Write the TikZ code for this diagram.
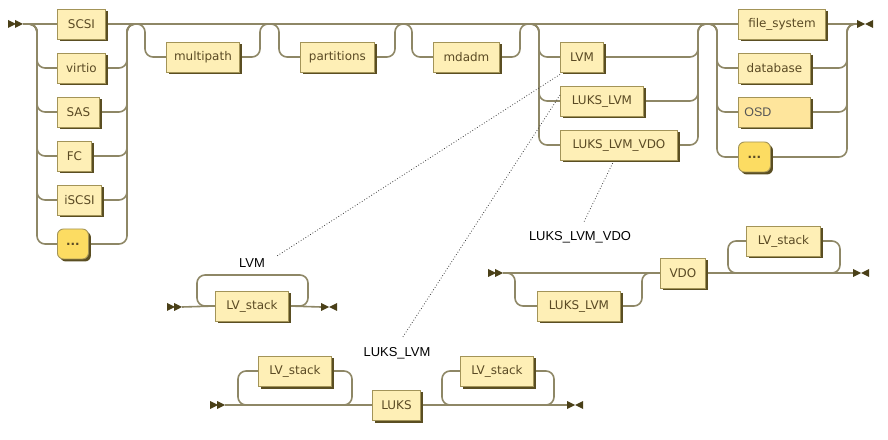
\documentclass[tikz,border=0pt]{standalone}
\usepackage{fontspec}
\setmainfont{DejaVu Sans}
\newfontfamily\labfont{Liberation Sans}
\usetikzlibrary{shadows}
\pgfdeclarelayer{bg}
\pgfsetlayers{bg,main}
\definecolor{railc}{HTML}{8E8766}
\definecolor{boxfill}{HTML}{FEEFB6}
\definecolor{boxdraw}{HTML}{A39458}
\definecolor{shadowc}{HTML}{5A4E22}
\definecolor{textc}{HTML}{5A4A24}
\definecolor{dotsfill}{HTML}{FCDC62}
\definecolor{osdfill}{HTML}{FEE59C}
\definecolor{osdtext}{HTML}{555555}
\definecolor{markc}{HTML}{4A4018}
\tikzset{
  startm/.pic={\fill[markc] (0,-4)--(8,0)--(0,4)--cycle (7,-4)--(15,0)--(7,4)--cycle;},
  endm/.pic={\fill[markc] (0,-4)--(8,0)--(0,4)--cycle (16,-4)--(8,0)--(16,4)--cycle;}
}
\begin{document}
\begin{tikzpicture}[x=1bp,y=-1bp,
  rail/.style={draw=railc,line width=1.6bp,rounded corners=8bp},
  term/.style={draw=boxdraw,fill=boxfill,line width=0.9bp,minimum height=30bp,inner sep=0pt,
    anchor=west,text=textc,font=\fontsize{12}{14}\selectfont,
    drop shadow={shadow xshift=2.5bp,shadow yshift=-2.5bp,fill=shadowc,opacity=1}},
  dotsbox/.style={term,fill=dotsfill,rounded corners=6bp},
  lab/.style={font=\labfont\fontsize{13}{15}\selectfont,text=black,inner sep=1bp},
  dotline/.style={draw=black!75,dotted,line width=0.8bp}]
\useasboundingbox (0,0) rectangle (888,440);

% ---------- main diagram ----------
\pic at (8,24) {startm};
\coordinate (st) at (23,24);
\pic at (857,24) {endm};
\coordinate (en) at (857,24);

\node[term,minimum width=48bp] (scsi) at (57,24) {SCSI};
\node[term,minimum width=48bp] (virtio) at (57,68) {virtio};
\node[term,minimum width=42bp] (sas) at (57,112) {SAS};
\node[term,minimum width=34bp] (fc) at (57,156) {FC};
\node[term,minimum width=44bp] (iscsi) at (57,200) {iSCSI};
\node[dotsbox,minimum width=31bp] (dots1) at (57,244) {\textbf{...}};

\node[term,minimum width=73bp] (mp) at (166,57) {multipath};
\node[term,minimum width=74bp] (pt) at (300,57) {partitions};
\node[term,minimum width=66bp] (md) at (433,57) {mdadm};

\node[term,minimum width=43bp] (lvm) at (560,57) {LVM};
\node[term,minimum width=83bp] (lukslvm) at (560,101) {LUKS\_LVM};
\node[term,minimum width=117bp] (lvmvdo) at (560,145) {LUKS\_LVM\_VDO};

\node[term,minimum width=87bp] (fs) at (738,24) {file\_system};
\node[term,minimum width=72bp] (db) at (738,68) {database};
\node[term,minimum width=72bp,fill=osdfill,text=osdtext,font=\labfont\fontsize{12.5}{14}\selectfont,align=left,text width=60bp] (osd) at (738,112) {OSD};
\node[dotsbox,minimum width=32bp] (dots2) at (738,157) {\textbf{...}};

\coordinate (a1) at (37,24);  \coordinate (a2) at (127,24);
\coordinate (b1) at (145,24); \coordinate (b2) at (260,24);
\coordinate (c1) at (279,24); \coordinate (c2) at (395,24);
\coordinate (d1) at (412,24); \coordinate (d2) at (520,24);
\coordinate (e1) at (539,24); \coordinate (e2) at (698,24);
\coordinate (f1) at (717,24); \coordinate (f2) at (847,24);

\begin{pgfonlayer}{bg}
% main line
\draw[rail] (st) -- (scsi.west);
\draw[rail] (scsi.east) -- (fs.west);
\draw[rail] (fs.east) -- (en);
% source choice
\foreach \n in {virtio,sas,fc,iscsi,dots1}{
  \draw[rail] (st) -- (a1) |- (\n.west);
  \draw[rail] (\n.east) -| (a2) -- ([xshift=9bp]a2);
}
% optional boxes
\draw[rail] ([xshift=-9bp]b1) -- (b1) |- (mp.west);
\draw[rail] (mp.east) -| (b2) -- ([xshift=9bp]b2);
\draw[rail] ([xshift=-9bp]c1) -- (c1) |- (pt.west);
\draw[rail] (pt.east) -| (c2) -- ([xshift=9bp]c2);
\draw[rail] ([xshift=-9bp]d1) -- (d1) |- (md.west);
\draw[rail] (md.east) -| (d2) -- ([xshift=9bp]d2);
\foreach \n in {lvm,lukslvm,lvmvdo}{
  \draw[rail] ([xshift=-9bp]e1) -- (e1) |- (\n.west);
  \draw[rail] (\n.east) -| (e2) -- ([xshift=9bp]e2);
}
\foreach \n in {db,osd,dots2}{
  \draw[rail] ([xshift=-9bp]f1) -- (f1) |- (\n.west);
  \draw[rail] (\n.east) -| (f2) -- ([xshift=9bp]f2);
}
\end{pgfonlayer}

% ---------- LVM diagram ----------
\pic at (167,307) {startm};
\coordinate (lst) at (182,307);
\pic at (321,307) {endm};
\coordinate (len) at (321,307);
\node[term,minimum width=73bp] (lvs1) at (215,306) {LV\_stack};
\coordinate (l1) at (197,275); \coordinate (l2) at (308,275);
\begin{pgfonlayer}{bg}
\draw[rail] (lst) -- (lvs1.west);
\draw[rail] (lvs1.east) -- (len);
\draw[rail] ([xshift=-12bp]lvs1.east) -| (l2) -- (l1) |- ([xshift=12bp]lvs1.west);
\end{pgfonlayer}

% ---------- VDO diagram ----------
\pic at (488,273) {startm};
\coordinate (vst) at (503,273);
\pic at (853,273) {endm};
\coordinate (ven) at (853,273);
\node[term,minimum width=83bp] (lukslvm2) at (537,306) {LUKS\_LVM};
\node[term,minimum width=45bp] (vdo) at (660,273) {VDO};
\node[term,minimum width=74bp] (lvs2) at (746,241) {LV\_stack};
\coordinate (g1) at (515,273); \coordinate (g2) at (642,273);
\coordinate (h1) at (728,273); \coordinate (h2) at (840,273);
\begin{pgfonlayer}{bg}
\draw[rail] (vst) -- (vdo.west);
\draw[rail] (vdo.east) -- (ven);
\draw[rail] ([xshift=-9bp]g1) -- (g1) |- (lukslvm2.west);
\draw[rail] (lukslvm2.east) -| (g2) -- ([xshift=9bp]g2);
\draw[rail] ([xshift=9bp]h1) -- (h1) |- (lvs2.west);
\draw[rail] (lvs2.east) -| (h2) -- ([xshift=-9bp]h2);
\end{pgfonlayer}

% ---------- LUKS diagram ----------
\pic at (210,405) {startm};
\coordinate (kst) at (225,405);
\pic at (567,405) {endm};
\coordinate (ken) at (567,405);
\node[term,minimum width=73bp] (lvs3) at (258,371) {LV\_stack};
\node[term,minimum width=48bp] (luks) at (372,405) {LUKS};
\node[term,minimum width=73bp] (lvs4) at (460,371) {LV\_stack};
\coordinate (k1) at (238,405); \coordinate (k2) at (352,405);
\coordinate (k3) at (442,405); \coordinate (k4) at (554,405);
\begin{pgfonlayer}{bg}
\draw[rail] (kst) -- (luks.west);
\draw[rail] (luks.east) -- (ken);
\draw[rail] ([xshift=9bp]k1) -- (k1) |- (lvs3.west);
\draw[rail] (lvs3.east) -| (k2) -- ([xshift=-9bp]k2);
\draw[rail] ([xshift=9bp]k3) -- (k3) |- (lvs4.west);
\draw[rail] (lvs4.east) -| (k4) -- ([xshift=-9bp]k4);
\end{pgfonlayer}

% ---------- labels and notes ----------
\node[lab] (lvmlab) at (252,263) {LVM};
\node[lab] (lukslab) at (397,353) {LUKS\_LVM};
\node[lab] (vdolab) at (580,237) {LUKS\_LVM\_VDO};
\draw[dotline,shorten >=12bp] ([yshift=-2bp]lvm.south west) -- (lvmlab.east);
\draw[dotline,shorten >=10bp] ([yshift=6bp]lukslvm.west) -- (lukslab.north);
\draw[dotline,shorten <=3bp,shorten >=9bp] ([xshift=-5bp]lvmvdo.south) -- (vdolab.north);
\end{tikzpicture}
\end{document}
